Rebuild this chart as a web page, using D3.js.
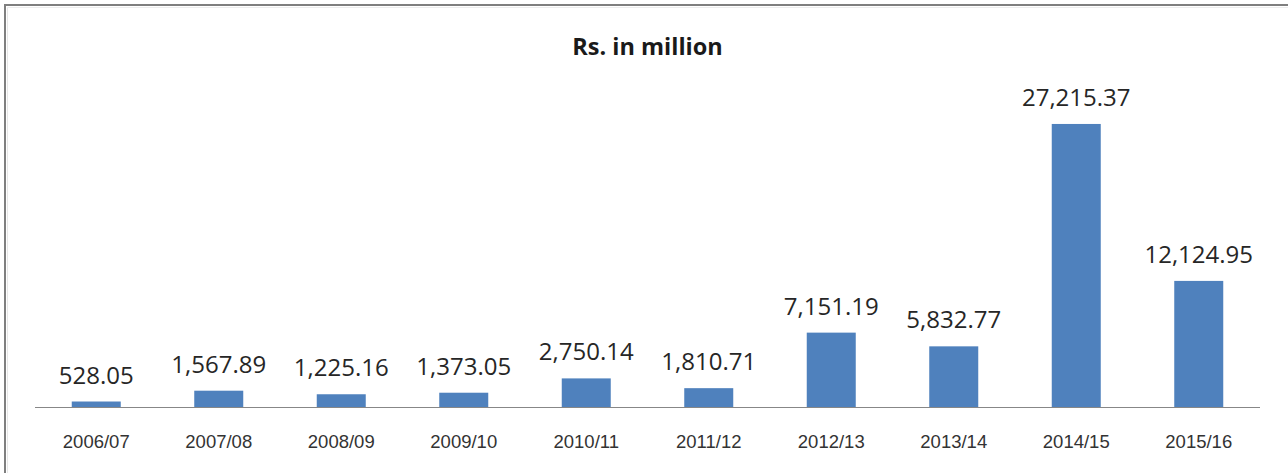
<!DOCTYPE html>
<html>
<head>
<meta charset="utf-8">
<script src="https://cdn.jsdelivr.net/npm/d3@7"></script>
<style>
  html, body { margin: 0; padding: 0; background: #fff; }
  svg { display: block; }
</style>
</head>
<body>
<div id="chart"></div>
<script>
// ── data ────────────────────────────────────────────────
const years  = ["2006/07", "2007/08", "2008/09", "2009/10", "2010/11",
                "2011/12", "2012/13", "2013/14", "2014/15", "2015/16"];
const values = [528.05, 1567.89, 1225.16, 1373.05, 2750.14,
                1810.71, 7151.19, 5832.77, 27215.37, 12124.95];
const title  = "Rs. in million";
const yMax   = 30000;

const W = 1288, H = 473;
const barColor  = "#4f81bd";
const axisColor = "#878787";

const svg = d3.select("#chart").append("svg")
  .attr("width", W)
  .attr("height", H);

// frame (cropped at right/bottom in the source)
svg.append("rect")
   .attr("x", 0).attr("y", 0).attr("width", W).attr("height", H)
   .attr("fill", "#fff");
svg.append("line")
   .attr("x1", 4).attr("x2", W).attr("y1", 5).attr("y2", 5)
   .attr("stroke", "#7f7f7f").attr("stroke-width", 2);
svg.append("line")
   .attr("x1", 5).attr("x2", 5).attr("y1", 4).attr("y2", H)
   .attr("stroke", "#7f7f7f").attr("stroke-width", 2);
svg.append("line")
   .attr("x1", 7.5).attr("x2", 7.5).attr("y1", 7).attr("y2", H)
   .attr("stroke", "#e6e6e6").attr("stroke-width", 1);
svg.append("line")
   .attr("x1", 7).attr("x2", W).attr("y1", 7.5).attr("y2", 7.5)
   .attr("stroke", "#ededed").attr("stroke-width", 1);

// scales
const plotL = 35, plotR = 1260;
const baseY = 407, topY = 95;

const x = d3.scaleBand()
  .domain(years)
  .range([plotL, plotR])
  .paddingInner(0.6)
  .paddingOuter(0.3);

const y = d3.scaleLinear()
  .domain([0, yMax])
  .range([baseY, topY]);

const rows = years.map((k, i) => ({ key: k, value: values[i] }));

// title
svg.append("text")
   .attr("x", (plotL + plotR) / 2)
   .attr("y", 55)
   .attr("text-anchor", "middle")
   .attr("font-family", "'Open Sans', 'Noto Sans', sans-serif")
   .attr("font-size", 23.5)
   .attr("font-weight", "bold")
   .attr("fill", "#1a1a1a")
   .text(title);

// bars
svg.selectAll("rect.bar")
   .data(rows)
   .join("rect")
   .attr("class", "bar")
   .attr("x", d => x(d.key))
   .attr("width", x.bandwidth())
   .attr("y", d => y(d.value))
   .attr("height", d => baseY - y(d.value))
   .attr("fill", barColor);

// value labels
const fmt = d3.format(",.2f");
svg.selectAll("text.val")
   .data(rows)
   .join("text")
   .attr("class", "val")
   .attr("x", d => x(d.key) + x.bandwidth() / 2)
   .attr("y", d => y(d.value) - 18)
   .attr("text-anchor", "middle")
   .attr("font-family", "'Open Sans', 'Noto Sans', sans-serif")
   .attr("font-size", 24)
   .attr("fill", "#262626")
   .text(d => fmt(d.value));

// x axis
const xAxis = d3.axisBottom(x).tickSize(0).tickPadding(0);
const gx = svg.append("g")
  .attr("transform", `translate(0,${baseY})`)
  .call(xAxis);
gx.select(".domain")
  .attr("d", `M${plotL},0.5H${plotR}`)
  .attr("stroke", axisColor)
  .attr("stroke-width", 1.2);
gx.selectAll(".tick text")
  .attr("dy", 0)
  .attr("y", 41)
  .attr("font-family", "'Liberation Sans', Arial, sans-serif")
  .attr("font-size", 18.5)
  .attr("fill", "#333");
</script>
</body>
</html>
